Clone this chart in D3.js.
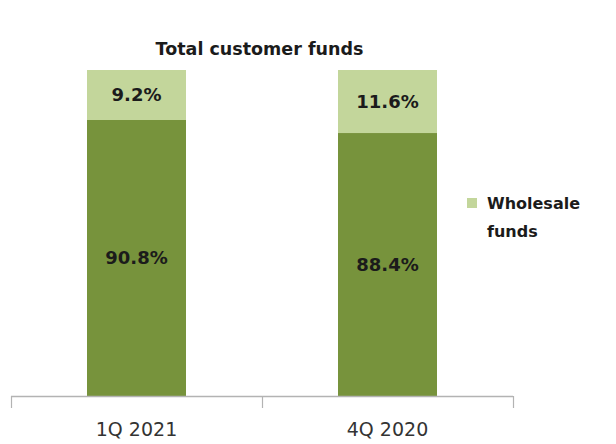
<!DOCTYPE html>
<html>
<head>
<meta charset="utf-8">
<script src="https://cdn.jsdelivr.net/npm/d3@7"></script>
<style>
  html, body { margin: 0; padding: 0; background: #ffffff; }
  svg { display: block; }
</style>
</head>
<body>
<svg id="chart" width="616" height="444"></svg>
<script>
// Share of total customer funds by quarter
const categories = ["1Q 2021", "4Q 2020"];
const otherFunds = [90.8, 88.4];      // lower (dark) segment
const wholesaleFunds = [9.2, 11.6];   // upper (light) segment
const legendLines = ["Wholesale", "funds"];
const title = "Total customer funds";

const colors = { other: "#77933c", wholesale: "#c3d69b" };
const boldFont = "'DejaVu Sans', Verdana, sans-serif";
const tickFont = "'DejaVu Sans', sans-serif";

const svg = d3.select("#chart");

const x = d3.scaleBand().domain(categories).range([11, 513]);
const barW = 99;
// value axis is truncated: it starts at 40% and ends at 100%
const yMin = 40;
const y = d3.scaleLinear().domain([yMin, 100]).range([396, 70]);

const rows = categories.map((c, i) => ({ cat: c, other: otherFunds[i], wholesale: wholesaleFunds[i] }));
const layers = d3.stack().keys(["other", "wholesale"])(rows);

const g = svg.append("g");
layers.forEach(layer => {
  g.selectAll(null).data(layer).enter().append("rect")
    .attr("x", d => x(d.data.cat) + (x.bandwidth() - barW) / 2)
    .attr("width", barW)
    .attr("y", d => y(d[1]))
    .attr("height", d => y(Math.max(d[0], yMin)) - y(d[1]))
    .attr("fill", colors[layer.key]);
});

// segment labels
layers.forEach(layer => {
  g.selectAll(null).data(layer).enter().append("text")
    .attr("x", d => x(d.data.cat) + x.bandwidth() / 2)
    .attr("y", d => (y(d[1]) + y(Math.max(d[0], yMin))) / 2 + 6.5)
    .attr("text-anchor", "middle")
    .attr("font-family", boldFont)
    .attr("font-weight", "bold")
    .attr("font-size", 18)
    .attr("fill", "#1b1b1b")
    .text(d => d.data[layer.key].toFixed(1) + "%");
});

// category axis with ticks on band edges
const edge = d3.scaleLinear().domain([0, categories.length]).range(x.range());
const axis = svg.append("g");
axis.append("line")
  .attr("x1", edge(0)).attr("x2", edge(categories.length))
  .attr("y1", y(yMin) + 0.5).attr("y2", y(yMin) + 0.5)
  .attr("stroke", "#b3b3b3").attr("stroke-width", 1.5);
axis.selectAll(null).data(d3.range(categories.length + 1)).enter().append("line")
  .attr("x1", d => Math.round(edge(d)) + 0.5).attr("x2", d => Math.round(edge(d)) + 0.5)
  .attr("y1", y(yMin)).attr("y2", y(yMin) + 12)
  .attr("stroke", "#b3b3b3").attr("stroke-width", 1.2);
axis.selectAll(null).data(categories).enter().append("text")
  .attr("x", d => x(d) + x.bandwidth() / 2)
  .attr("y", 436)
  .attr("text-anchor", "middle")
  .attr("font-family", tickFont)
  .attr("font-size", 19)
  .attr("fill", "#333333")
  .text(d => d);

// title
svg.append("text")
  .attr("x", 259.5).attr("y", 55)
  .attr("text-anchor", "middle")
  .attr("font-family", boldFont)
  .attr("font-weight", "bold")
  .attr("font-size", 17.5)
  .attr("fill", "#1b1b1b")
  .text(title);

// legend (wholesale series)
const lg = svg.append("g").attr("transform", "translate(467,198)");
lg.append("rect").attr("width", 10).attr("height", 10).attr("fill", colors.wholesale);
lg.append("text")
  .attr("font-family", boldFont)
  .attr("font-weight", "bold")
  .attr("font-size", 16)
  .attr("fill", "#1b1b1b")
  .selectAll("tspan").data(legendLines).enter().append("tspan")
  .attr("x", 20).attr("y", (d, i) => 11 + i * 28)
  .text(d => d);
</script>
</body>
</html>
